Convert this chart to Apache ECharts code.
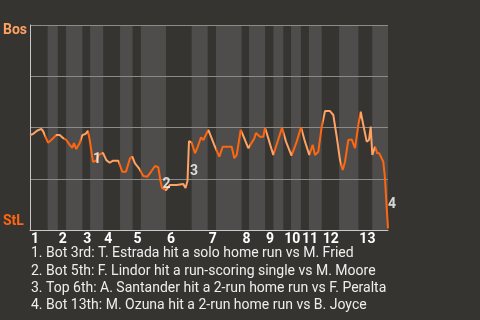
<!DOCTYPE html>
<html>
<head>
<meta charset="utf-8">
<style>
html,body{margin:0;padding:0;background:#363431;}
#chart{width:480px;height:320px;}
</style>
<script src="https://cdn.jsdelivr.net/npm/echarts@6.0.0/dist/echarts.min.js"></script>
</head>
<body>
<div id="chart"></div>
<script>
// Half-inning start positions (play index); even = top (Bos batting), odd = bottom (StL batting)
var halfStarts = [0, 6.6, 10.4, 13.5, 19.6, 22.5, 27.4, 33.7, 38.4, 41.5, 50.9, 60.5, 66.5, 69.6,
  79.2, 82.0, 88.0, 91.1, 94.8, 97.7, 101.4, 104.4, 109.2, 115.7, 122.9, 128.1];
var lastPlay = 134;
var inningLabels = ['1','2','3','4','5','6','7','8','9','10','11','12','13'];

// Win probability for Bos, per play
var playX = [0, 1.12, 2.62, 4.23, 4.87, 6.74, 7.97, 9.84, 11.12, 12.35, 13.59, 14.86, 15.83, 16.47,
  17.33, 18.60, 19.58, 20.70, 21.71, 22.35, 23.58, 24.82, 25.71, 27.32, 28.56, 29.83, 31.07, 33.05,
  34.55, 35.93, 37.43, 38.29, 39.30, 40.80, 42.41, 43.91, 45.29, 46.79, 48.02, 48.77, 49.41, 50.91,
  52.40, 54.91, 57.38, 58.21, 58.95, 59.51, 60.53, 61.76, 62.77, 64.01, 64.87, 65.50, 66.74, 68.01,
  69.25, 70.86, 72.13, 75.50, 76.47, 77.37, 78.87, 80.48, 81.71, 83.96, 84.59, 86.09, 87.33, 87.96,
  89.20, 91.07, 94.33, 95.82, 97.88, 99.83, 101.44, 102.93, 104.54, 105.82, 106.68, 107.91, 109.19,
  110.42, 112.29, 113.53, 114.80, 116.04, 117.05, 117.91, 119.14, 120.42, 121.65, 122.89, 123.78,
  124.76, 126.03, 126.89, 127.53, 128.13, 129.14, 130.00, 130.75, 132.24, 132.88, 133.52, 134];
var bosWinProb = [0.463, 0.468, 0.484, 0.493, 0.483, 0.426, 0.439, 0.463, 0.463, 0.449, 0.439, 0.415,
  0.401, 0.424, 0.395, 0.424, 0.463, 0.468, 0.484, 0.439, 0.333, 0.338, 0.366, 0.376, 0.341, 0.328,
  0.338, 0.338, 0.284, 0.284, 0.350, 0.358, 0.325, 0.301, 0.263, 0.260, 0.284, 0.312, 0.306, 0.244,
  0.205, 0.195, 0.220, 0.220, 0.224, 0.205, 0.239, 0.434, 0.426, 0.374, 0.406, 0.452, 0.439, 0.447,
  0.488, 0.447, 0.406, 0.358, 0.406, 0.406, 0.350, 0.366, 0.488, 0.439, 0.399, 0.447, 0.473, 0.455,
  0.455, 0.499, 0.447, 0.366, 0.499, 0.431, 0.363, 0.431, 0.501, 0.431, 0.366, 0.415, 0.366, 0.382,
  0.504, 0.580, 0.580, 0.561, 0.455, 0.341, 0.293, 0.333, 0.439, 0.442, 0.399, 0.512, 0.577, 0.512,
  0.431, 0.439, 0.504, 0.366, 0.406, 0.374, 0.374, 0.333, 0.252, 0.106, 0.008];

// Key-play markers: [play, prob, label]
var keyMarkers = [[25.1, 0.346, '1'], [51.1, 0.222, '2'], [61.4, 0.283, '3'], [135.5, 0.122, '4']];
var keyNotes = [
  '1. Bot 3rd: T. Estrada hit a solo home run vs M. Fried',
  '2. Bot 5th: F. Lindor hit a run-scoring single vs M. Moore',
  '3. Top 6th: A. Santander hit a 2-run home run vs F. Peralta',
  '4. Bot 13th: M. Ozuna hit a 2-run home run vs B. Joyce'
];
var teamTop = 'Bos', teamBottom = 'StL';

var BOS_COLOR = '#ffa262', STL_COLOR = '#ff6610';

var lineData = playX.map(function (x, i) { return [x, bosWinProb[i]]; });
var bounds = halfStarts.concat([lastPlay]);
var topStarts = halfStarts.filter(function (v, i) { return i % 2 === 0; });

// Hard colour stops along the line's horizontal extent, one band per half-inning
var x0 = playX[0], x1 = playX[playX.length - 1];
var stops = [];
var stripes = [];
for (var i = 0; i < halfStarts.length; i++) {
  var c = i % 2 === 0 ? BOS_COLOR : STL_COLOR;
  var a = Math.max(0, Math.min(1, (bounds[i] - x0) / (x1 - x0)));
  var b = Math.max(0, Math.min(1, (bounds[i + 1] - x0) / (x1 - x0)));
  stops.push({ offset: a, color: c });
  stops.push({ offset: b, color: c });
  if (i % 2 === 1) stripes.push([{ xAxis: bounds[i] }, { xAxis: bounds[i + 1] }]);
}

var chart = echarts.init(document.getElementById('chart'));
chart.setOption({
  backgroundColor: '#363431',
  animation: false,
  textStyle: { fontFamily: 'Roboto' },
  grid: { left: 30, top: 25, right: 92, bottom: 90 },
  xAxis: {
    type: 'value', min: 0, max: lastPlay, z: 2,
    axisLine: { show: true, lineStyle: { color: '#c8c8c8', width: 1 } },
    axisTick: { show: false },
    splitLine: { show: false },
    axisLabel: {
      customValues: topStarts,
      formatter: function (v) { return inningLabels[topStarts.indexOf(v)]; },
      align: 'left', margin: 2, padding: [0, 0, 0, 1],
      color: '#ffffff', fontSize: 14, fontWeight: 'bold', fontFamily: 'Roboto'
    }
  },
  yAxis: {
    type: 'value', min: 0, max: 1, interval: 0.25, z: 2,
    axisLine: { show: true, lineStyle: { color: '#c8c8c8', width: 1 } },
    axisTick: { show: false },
    axisLabel: { show: false },
    splitLine: { show: true, lineStyle: { color: '#8c8b89', width: 1 } }
  },
  series: [
    {
      type: 'line', data: [], z: 1, silent: true,
      markArea: {
        silent: true,
        itemStyle: { color: '#4e4d4b' },
        data: stripes
      }
    },
    {
      type: 'line', data: lineData, symbol: 'none', z: 3,
      lineStyle: {
        width: 2,
        color: new echarts.graphic.LinearGradient(0, 0, 1, 0, stops)
      }
    },
    {
      type: 'scatter', data: keyMarkers, symbolSize: 0, clip: false, z: 4,
      label: {
        show: true, position: 'inside',
        formatter: function (p) { return p.value[2]; },
        color: '#ffffff', fontSize: 14, fontWeight: 'bold', fontFamily: 'Roboto'
      }
    }
  ],
  graphic: [
    { type: 'text', left: 3, top: 23, style: { text: teamTop, fill: BOS_COLOR, font: 'bold 14px Roboto' } },
    { type: 'text', left: 3, top: 214, style: { text: teamBottom, fill: STL_COLOR, font: 'bold 14px Roboto' } },
    { type: 'text', left: 31, top: 245, style: { text: keyNotes.join('\n'), fill: '#eeeeee', font: '14px Roboto', lineHeight: 17.4 } }
  ]
});
</script>
</body>
</html>
